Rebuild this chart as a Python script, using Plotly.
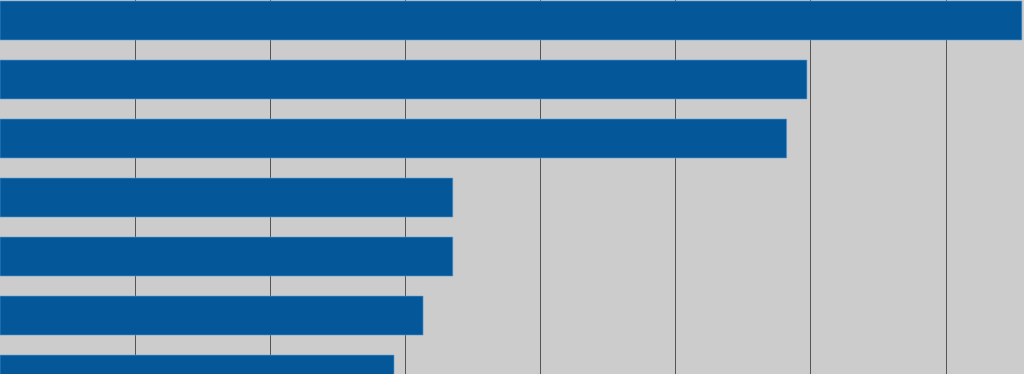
import plotly.graph_objects as go

categories = ["Cat 1", "Cat 2", "Cat 3", "Cat 4", "Cat 5", "Cat 6", "Cat 7"]
values = [7.56, 5.97, 5.82, 3.35, 3.35, 3.13, 2.915]
x_ticks = [0, 1, 2, 3, 4, 5, 6, 7]

fig = go.Figure(go.Bar(
    y=categories, x=values, orientation="h",
    marker=dict(color="#04589a", line=dict(width=0.6, color="#5b9bd5")),
))
fig.update_layout(
    width=1024, height=374,
    margin=dict(l=0, r=0, t=0, b=0),
    paper_bgcolor="#cccccc", plot_bgcolor="#cccccc",
    bargap=0.34, showlegend=False,
)
fig.update_xaxes(range=[0, 7.576], tickvals=x_ticks, showticklabels=False,
                 showgrid=True, gridcolor="#555555", gridwidth=1, zeroline=False)
fig.update_yaxes(range=[5.99, -0.347], showticklabels=False, showgrid=False,
                 showline=True, linecolor="#555555", linewidth=2, zeroline=False)
fig.write_html("out.html", config={"displayModeBar": False},
               post_script="document.body.style.margin='0';document.body.style.overflow='hidden';")
